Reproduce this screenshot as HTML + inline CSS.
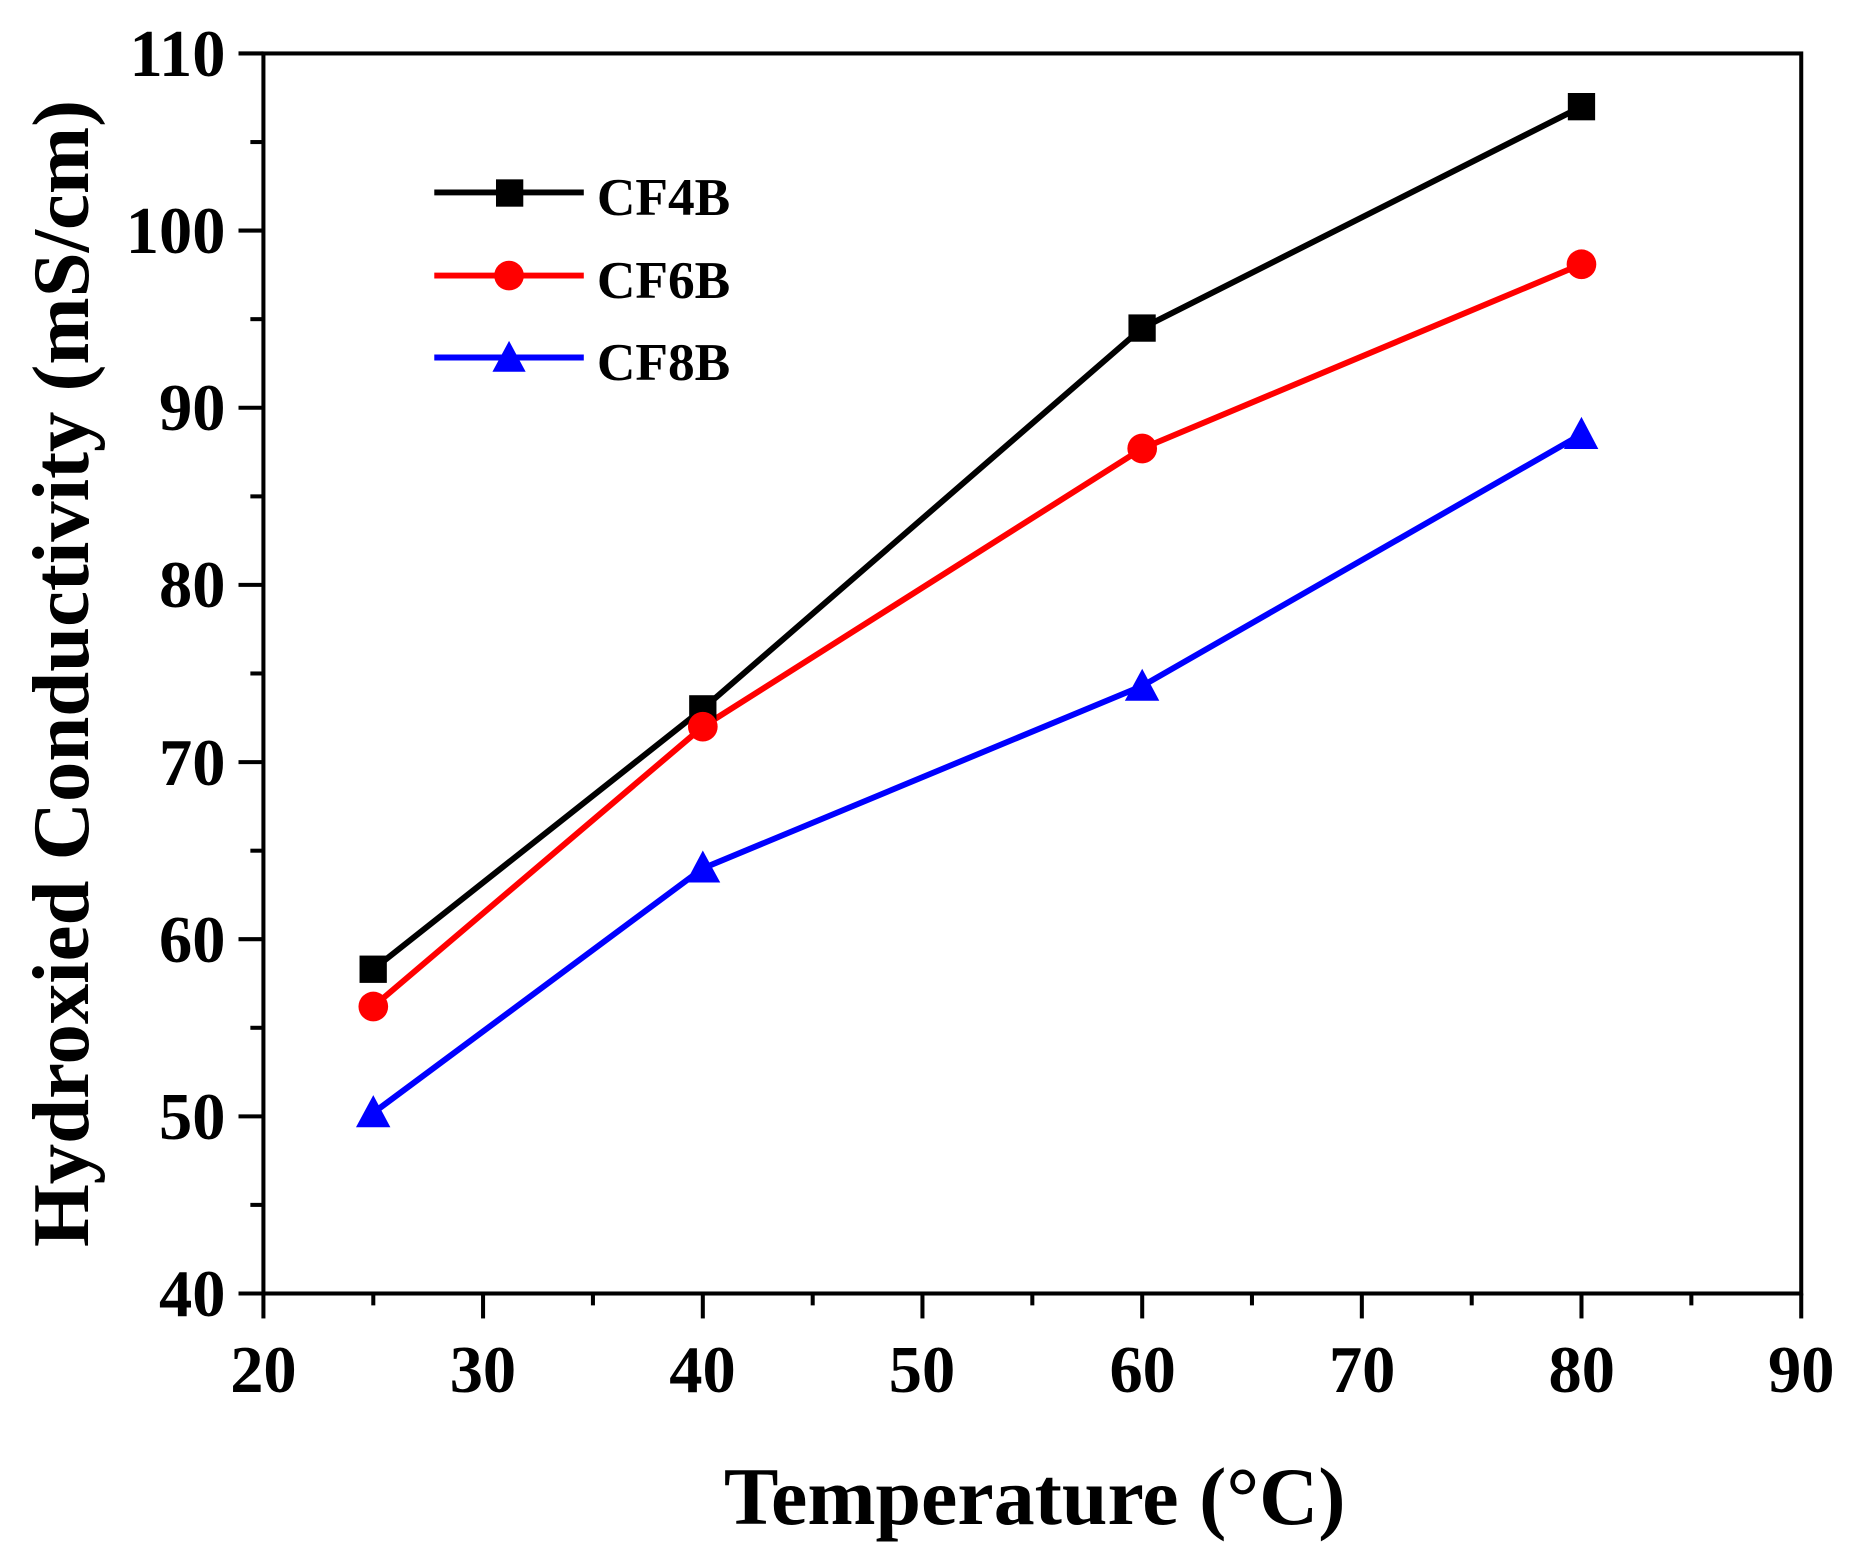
<!DOCTYPE html>
<html><head><meta charset="utf-8"><style>
html,body{margin:0;padding:0;background:#fff}
svg{display:block}
text{font-family:"Liberation Serif",serif;font-weight:bold;fill:#000}
</style></head><body>
<svg width="1857" height="1556" viewBox="0 0 1565 1310" preserveAspectRatio="none" xmlns="http://www.w3.org/2000/svg">
<rect x="0" y="0" width="1565" height="1310" fill="#fff"/>
<rect x="222" y="45" width="1296" height="1044" fill="none" stroke="#000" stroke-width="3.4"/>
<g stroke="#000" stroke-width="3.4">
<line x1="222" y1="1089" x2="222" y2="1110"/>
<line x1="407.1" y1="1089" x2="407.1" y2="1110"/>
<line x1="592.3" y1="1089" x2="592.3" y2="1110"/>
<line x1="777.4" y1="1089" x2="777.4" y2="1110"/>
<line x1="962.6" y1="1089" x2="962.6" y2="1110"/>
<line x1="1147.7" y1="1089" x2="1147.7" y2="1110"/>
<line x1="1332.8" y1="1089" x2="1332.8" y2="1110"/>
<line x1="1518" y1="1089" x2="1518" y2="1110"/>
<line x1="314.6" y1="1089" x2="314.6" y2="1099"/>
<line x1="499.7" y1="1089" x2="499.7" y2="1099"/>
<line x1="684.9" y1="1089" x2="684.9" y2="1099"/>
<line x1="870" y1="1089" x2="870" y2="1099"/>
<line x1="1055.1" y1="1089" x2="1055.1" y2="1099"/>
<line x1="1240.3" y1="1089" x2="1240.3" y2="1099"/>
<line x1="1425.4" y1="1089" x2="1425.4" y2="1099"/>
<line x1="222" y1="1089" x2="201" y2="1089"/>
<line x1="222" y1="939.9" x2="201" y2="939.9"/>
<line x1="222" y1="790.7" x2="201" y2="790.7"/>
<line x1="222" y1="641.6" x2="201" y2="641.6"/>
<line x1="222" y1="492.4" x2="201" y2="492.4"/>
<line x1="222" y1="343.3" x2="201" y2="343.3"/>
<line x1="222" y1="194.1" x2="201" y2="194.1"/>
<line x1="222" y1="45" x2="201" y2="45"/>
<line x1="222" y1="1014.4" x2="211" y2="1014.4"/>
<line x1="222" y1="865.3" x2="211" y2="865.3"/>
<line x1="222" y1="716.2" x2="211" y2="716.2"/>
<line x1="222" y1="567" x2="211" y2="567"/>
<line x1="222" y1="417.9" x2="211" y2="417.9"/>
<line x1="222" y1="268.7" x2="211" y2="268.7"/>
<line x1="222" y1="119.6" x2="211" y2="119.6"/>
</g>
<g font-size="56" text-anchor="middle">
<text x="222" y="1172">20</text><text x="407" y="1172">30</text><text x="592" y="1172">40</text>
<text x="777" y="1172">50</text><text x="963" y="1172">60</text><text x="1148" y="1172">70</text>
<text x="1333" y="1172">80</text><text x="1518" y="1172">90</text>
</g>
<g font-size="56" text-anchor="end">
<text x="190" y="1108">40</text><text x="190" y="959">50</text><text x="190" y="810">60</text>
<text x="190" y="661">70</text><text x="190" y="511">80</text><text x="190" y="362">90</text>
<text x="190" y="213">100</text><text x="190" y="64">110</text>
</g>
<text x="872" y="1283" font-size="69" text-anchor="middle">Temperature (°C)</text>
<text transform="translate(74,567) rotate(-90)" font-size="68" text-anchor="middle">Hydroxied Conductivity (mS/cm)</text>
<polyline points="314.6,816.1 592.3,596.8 962.6,276.2 1332.8,89.8" fill="none" stroke="#000" stroke-width="5"/>
<polyline points="314.6,847.4 592.3,611.8 962.6,377.6 1332.8,222.5" fill="none" stroke="#f00" stroke-width="5"/>
<polyline points="314.6,936.9 592.3,731.1 962.6,577.5 1332.8,365.7" fill="none" stroke="#00f" stroke-width="5"/>
<g fill="#000">
<rect x="303" y="804.5" width="23" height="23"/><rect x="580.8" y="585.3" width="23" height="23"/>
<rect x="951" y="264.7" width="23" height="23"/><rect x="1321.3" y="78.3" width="23" height="23"/>
</g>
<g fill="#f00">
<circle cx="314.6" cy="847.4" r="12.5"/><circle cx="592.3" cy="611.8" r="12.5"/>
<circle cx="962.6" cy="377.6" r="12.5"/><circle cx="1332.8" cy="222.5" r="12.5"/>
</g>
<g fill="#00f">
<polygon points="314.6,922 300,949 329,949"/><polygon points="592.3,716 578,743 607,743"/>
<polygon points="962.6,563 948,590 977,590"/><polygon points="1332.8,351 1318,378 1347,378"/>
</g>
<line x1="366" y1="162" x2="492" y2="162" stroke="#000" stroke-width="5"/>
<rect x="418" y="151" width="23" height="23" fill="#000"/>
<line x1="366" y1="232" x2="492" y2="232" stroke="#f00" stroke-width="5"/>
<circle cx="429" cy="232" r="12.5" fill="#f00"/>
<line x1="366" y1="301" x2="492" y2="301" stroke="#00f" stroke-width="5"/>
<polygon points="429,287 415,313 443,313" fill="#00f"/>
<g font-size="45">
<text x="503" y="181">CF4B</text><text x="503" y="251">CF6B</text><text x="503" y="320">CF8B</text>
</g>
</svg>
</body></html>
